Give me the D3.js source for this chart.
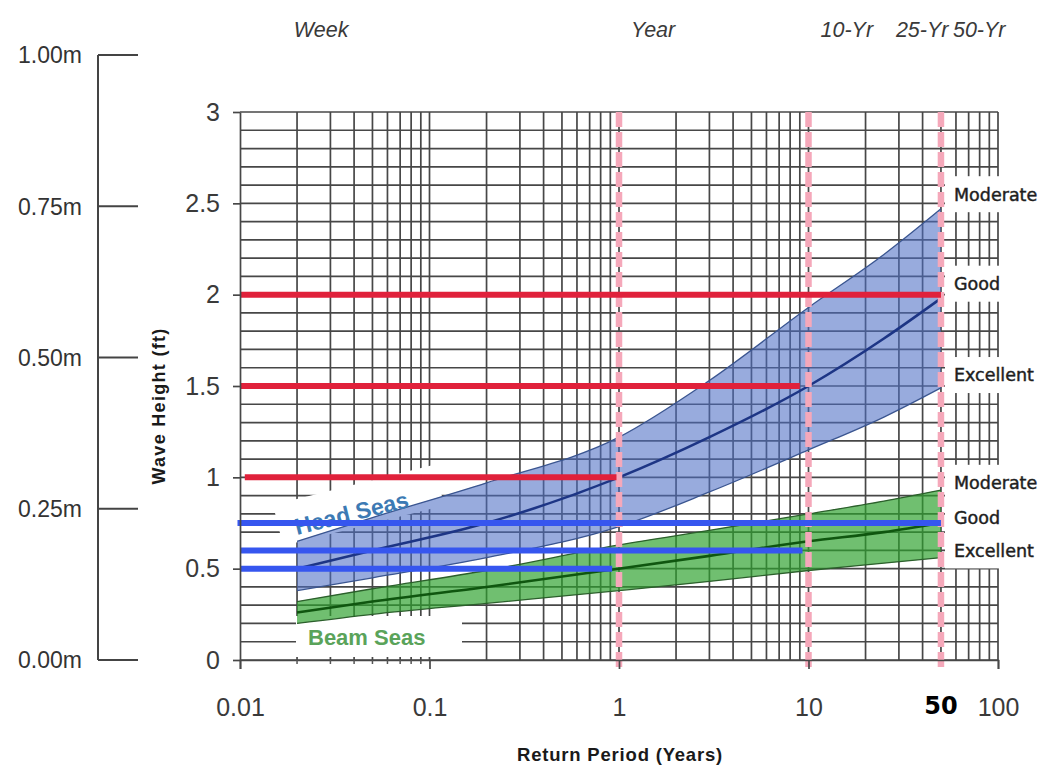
<!DOCTYPE html>
<html>
<head>
<meta charset="utf-8">
<script src="https://d3js.org/d3.v7.min.js"></script>
<style>
  body { margin: 0; background: #fff; }
  svg { display: block; }
</style>
</head>
<body>
<svg id="chart" width="1047" height="769"></svg>
<script>
// return periods (years) where the bands were read
const periods   = [0.02, 0.05, 0.2, 1, 3, 10, 25, 50];
const headUpper = [0.65, 0.78, 0.97, 1.22, 1.53, 1.93, 2.22, 2.47];
const headMid   = [0.50, 0.60, 0.75, 1.00, 1.22, 1.50, 1.76, 1.98];
const headLower = [0.38, 0.45, 0.56, 0.73, 0.92, 1.15, 1.33, 1.49];
const beamUpper = [0.32, 0.39, 0.49, 0.63, 0.71, 0.80, 0.87, 0.93];
const beamMid   = [0.26, 0.32, 0.40, 0.50, 0.57, 0.65, 0.70, 0.75];
const beamLower = [0.20, 0.25, 0.31, 0.38, 0.43, 0.49, 0.53, 0.56];

// threshold lines (ft) and the return period where each one stops
const redLevels  = [2.0, 1.5, 1.0];
const redStarts  = [0.01, 0.01, 0.0106];
const redEnds    = [50, 9, 0.97];
const blueLevels = [0.75, 0.6, 0.5];
const blueStarts = [0.0097, 0.01, 0.01];
const blueEnds   = [50, 9.3, 0.92];

const markYears = [1, 10, 50];
const topLabels = ["Week", "Year", "10-Yr", "25-Yr", "50-Yr"];
const topYears  = [1 / 52, 1, 10, 25, 50];

const ratingLabels = ["Moderate", "Good", "Excellent", "Moderate", "Good", "Excellent"];
const ratingFt     = [2.55, 2.06, 1.56, 0.97, 0.78, 0.60];

const xTicks = [0.01, 0.1, 1, 10, 100];
const yTicks = [0, 0.5, 1, 1.5, 2, 2.5, 3];
const mTicks = [0, 0.25, 0.5, 0.75, 1];
const mLabels = ["0.00m", "0.25m", "0.50m", "0.75m", "1.00m"];

const svg = d3.select("#chart");
const x = d3.scaleLog().domain([0.01, 100]).range([240, 998]);
const y = d3.scaleLinear().domain([0, 3]).range([660, 112]);
const ym = d3.scaleLinear().domain([0, 1]).range([660, 55]);

// grid
const grid = svg.append("g").attr("stroke", "#474747").attr("stroke-width", 1.7);
grid.selectAll("line.h").data(d3.range(31).map(i => i / 10)).enter().append("line")
  .attr("x1", x(0.01)).attr("x2", x(100))
  .attr("y1", d => y(d)).attr("y2", d => y(d));
grid.selectAll("line.v").data(x.ticks().filter(d => d > 0.011)).enter().append("line")
  .attr("x1", d => x(d)).attr("x2", d => x(d))
  .attr("y1", y(0)).attr("y2", y(3));

// white label backgrounds
const bg = svg.append("g").attr("fill", "#fff");
bg.selectAll("rect.r").data(ratingFt).enter().append("rect")
  .attr("x", 945).attr("width", 102)
  .attr("y", d => y(d) - 18).attr("height", 36);
bg.append("rect").attr("x", 296).attr("y", 616).attr("width", 166).attr("height", 41);
bg.append("rect").attr("transform", "translate(297,535) rotate(-14)")
  .attr("x", -16).attr("y", -35).attr("width", 166).attr("height", 42);

// bands
function band(upper, lower, mid, fill, op, edge, midColor) {
  const pts = periods.map((p, i) => ({ p: p, u: upper[i], l: lower[i], m: mid[i] }));
  const area = d3.area().curve(d3.curveMonotoneX)
    .x(d => x(d.p)).y0(d => y(d.l)).y1(d => y(d.u));
  svg.append("path").datum(pts).attr("d", area)
    .attr("fill", fill).attr("fill-opacity", op);
  ["u", "l"].forEach(k => {
    svg.append("path").datum(pts)
      .attr("d", d3.line().curve(d3.curveMonotoneX).x(d => x(d.p)).y(d => y(d[k])))
      .attr("fill", "none").attr("stroke", edge).attr("stroke-width", 1.3);
  });
  svg.append("path").datum(pts)
    .attr("d", d3.line().curve(d3.curveMonotoneX).x(d => x(d.p)).y(d => y(d.m)))
    .attr("fill", "none").attr("stroke", midColor).attr("stroke-width", 2.6);
}
band(headUpper, headLower, headMid, "#4d6fc4", 0.58, "#3a5590", "#1d3585");
band(beamUpper, beamLower, beamMid, "#2ca02c", 0.68, "#2b5f2b", "#0f560f");

// band labels
svg.append("text").attr("transform", "translate(297,535) rotate(-14)")
  .attr("font-family", "Liberation Sans, Arial, sans-serif").attr("font-weight", "bold")
  .attr("font-size", 23).attr("fill", "#3c7ab4").text("Head Seas");
svg.append("text").attr("x", 308).attr("y", 645)
  .attr("font-family", "Liberation Sans, Arial, sans-serif").attr("font-weight", "bold")
  .attr("font-size", 22).attr("fill", "#5aa35a").text("Beam Seas");

// pink markers
svg.append("g").selectAll("line").data(markYears).enter().append("line")
  .attr("x1", d => x(d)).attr("x2", d => x(d))
  .attr("y1", y(3)).attr("y2", 670)
  .attr("stroke", "#f5a8ba").attr("stroke-width", 6.5).attr("stroke-dasharray", "15,5");

// threshold lines
function levels(vals, starts, ends, color) {
  svg.append("g").selectAll("line").data(vals).enter().append("line")
    .attr("x1", (d, i) => x(starts[i])).attr("x2", (d, i) => x(ends[i]))
    .attr("y1", d => y(d)).attr("y2", d => y(d))
    .attr("stroke", color).attr("stroke-width", 6);
}
levels(redLevels, redStarts, redEnds, "#e0213b");
levels(blueLevels, blueStarts, blueEnds, "#3656ef");

// axes
const font = "Liberation Sans, Arial, sans-serif";
const gy = svg.append("g").attr("transform", "translate(240,0)")
  .call(d3.axisLeft(y).tickValues(yTicks).tickFormat(d => d).tickSize(7).tickPadding(13).tickSizeOuter(0));
const gx = svg.append("g").attr("transform", "translate(0,660)")
  .call(d3.axisBottom(x).tickValues(xTicks).tickFormat(d => d).tickSize(9).tickPadding(29).tickSizeOuter(9));
[gy, gx].forEach(g => {
  g.selectAll("path, line").attr("stroke", "#474747").attr("stroke-width", 1.7);
  g.selectAll("text").attr("font-family", font).attr("font-size", 25).attr("fill", "#3a3a3a");
});
svg.append("g").selectAll("line").data(x.ticks().filter(d => d > 0.011 && d < 0.1)).enter().append("line")
  .attr("x1", d => x(d)).attr("x2", d => x(d)).attr("y1", 660).attr("y2", 664)
  .attr("stroke", "#555").attr("stroke-width", 1.5);

svg.append("text").attr("x", x(50)).attr("y", 714).attr("text-anchor", "middle")
  .attr("font-family", "DejaVu Sans, Verdana, sans-serif").attr("font-weight", "bold")
  .attr("font-size", 24).attr("fill", "#000").text("50");

// meters scale on the left
const gm = svg.append("g");
gm.append("line").attr("x1", 98).attr("x2", 98).attr("y1", ym(1)).attr("y2", ym(0))
  .attr("stroke", "#444").attr("stroke-width", 2);
gm.selectAll("line.t").data(mTicks).enter().append("line")
  .attr("x1", 98).attr("x2", 138).attr("y1", d => ym(d)).attr("y2", d => ym(d))
  .attr("stroke", "#444").attr("stroke-width", 2);
gm.selectAll("text").data(mTicks).enter().append("text")
  .attr("x", 82).attr("y", d => ym(d)).attr("dy", "0.36em").attr("text-anchor", "end")
  .attr("font-family", font).attr("font-size", 23).attr("fill", "#333")
  .text((d, i) => mLabels[i]);

// axis titles
svg.append("text").attr("transform", "translate(165,406) rotate(-90)")
  .attr("text-anchor", "middle").attr("font-family", font).attr("font-weight", "bold")
  .attr("font-size", 18).attr("letter-spacing", 1.3).attr("fill", "#1a1a1a")
  .text("Wave Height (ft)");
svg.append("text").attr("x", 620).attr("y", 761).attr("text-anchor", "middle")
  .attr("font-family", font).attr("font-weight", "bold").attr("font-size", 18.5)
  .attr("letter-spacing", 0.8).attr("fill", "#1a1a1a").text("Return Period (Years)");

// period labels on top
svg.append("g").selectAll("text").data(topLabels).enter().append("text")
  .attr("x", (d, i) => x(topYears[i]) + (i === 0 ? 0 : 12)).attr("y", 37)
  .attr("font-family", font).attr("font-style", "italic").attr("font-size", 21.5)
  .attr("fill", "#3a3a3a").text(d => d);

// rating labels on the right
svg.append("g").selectAll("text").data(ratingLabels).enter().append("text")
  .attr("x", 954).attr("y", (d, i) => y(ratingFt[i])).attr("dy", "0.36em")
  .attr("font-family", "DejaVu Sans, Verdana, sans-serif").attr("font-size", 17.5)
  .attr("fill", "#1e1e1e").attr("stroke", "#1e1e1e").attr("stroke-width", 0.45)
  .text(d => d);
</script>
</body>
</html>
